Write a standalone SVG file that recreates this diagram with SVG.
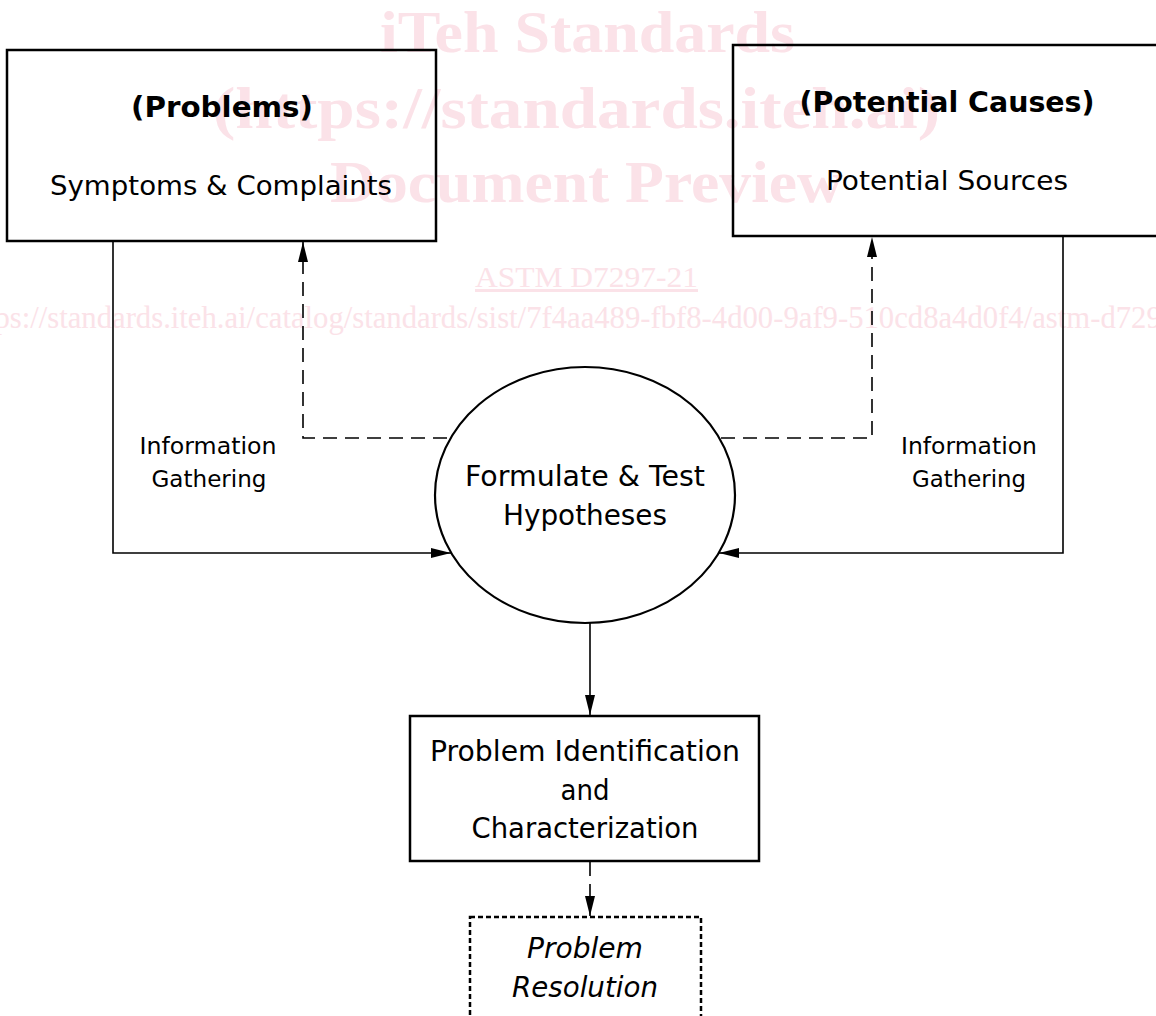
<svg xmlns="http://www.w3.org/2000/svg" width="1156" height="1016" viewBox="0 0 1156 1016">
<defs>
<marker id="ahl" viewBox="0 0 20 10" refX="20" refY="5" markerWidth="20" markerHeight="10" markerUnits="userSpaceOnUse" orient="auto">
<path d="M0,0 L20,5 L0,10 z" fill="#000"/>
</marker>
</defs>
<style>
.wm{font-family:"Liberation Serif",serif;fill:#fbe2e8}
.wmb{font-weight:bold;font-size:60px}
.t{font-family:"DejaVu Sans",Verdana,sans-serif;fill:#000;text-anchor:middle}
.box{fill:none;stroke:#000;stroke-width:2.5}
.ln{fill:none;stroke:#000;stroke-width:1.6}
.dash{stroke-dasharray:14 8}
</style>
<rect width="1156" height="1016" fill="#fff"/>
<g id="watermark">
<text class="wm wmb" x="380" y="52" textLength="415" lengthAdjust="spacingAndGlyphs">iTeh Standards</text>
<text class="wm wmb" x="213" y="128" textLength="727" lengthAdjust="spacingAndGlyphs">(https://standards.iteh.ai)</text>
<text class="wm wmb" x="330" y="202" textLength="513" lengthAdjust="spacingAndGlyphs">Document Preview</text>
<text class="wm" x="475" y="287" font-size="30" textLength="223" lengthAdjust="spacingAndGlyphs" text-decoration="underline">ASTM D7297-21</text>
<text class="wm" x="-38" y="328" font-size="31" textLength="1256" lengthAdjust="spacingAndGlyphs">https://standards.iteh.ai/catalog/standards/sist/7f4aa489-fbf8-4d00-9af9-510cd8a4d0f4/astm-d7297-21</text>
</g>
<g id="connectors">
<polyline class="ln" points="113,241 113,553 451,553" marker-end="url(#ahl)"/>
<polyline class="ln" points="1063,236 1063,553 719,553" marker-end="url(#ahl)"/>
<polyline class="ln dash" points="447,438 303,438 303,242" marker-end="url(#ahl)"/>
<polyline class="ln dash" points="721,438 872,438 872,237" marker-end="url(#ahl)"/>
<line class="ln" x1="590" y1="622" x2="590" y2="715" marker-end="url(#ahl)"/>
<line class="ln dash" x1="590" y1="862" x2="590" y2="916" marker-end="url(#ahl)"/>
<text class="t" x="208" y="454" font-size="23" textLength="137" lengthAdjust="spacingAndGlyphs">Information</text>
<text class="t" x="209" y="487" font-size="23" textLength="115" lengthAdjust="spacingAndGlyphs">Gathering</text>
<text class="t" x="969" y="454" font-size="23" textLength="136" lengthAdjust="spacingAndGlyphs">Information</text>
<text class="t" x="969" y="487" font-size="23" textLength="114" lengthAdjust="spacingAndGlyphs">Gathering</text>
</g>
<g id="node-problems">
<rect class="box" x="7" y="50" width="429" height="191"/>
<text class="t" x="222" y="117" font-size="28" font-weight="bold" textLength="182" lengthAdjust="spacingAndGlyphs">(Problems)</text>
<text class="t" x="221" y="195" font-size="27" textLength="342" lengthAdjust="spacingAndGlyphs">Symptoms &amp; Complaints</text>
</g>
<g id="node-causes">
<rect class="box" x="733" y="45" width="440" height="191"/>
<text class="t" x="947" y="112" font-size="28" font-weight="bold" textLength="295" lengthAdjust="spacingAndGlyphs">(Potential Causes)</text>
<text class="t" x="947" y="190" font-size="27" textLength="242" lengthAdjust="spacingAndGlyphs">Potential Sources</text>
</g>
<g id="node-hypotheses">
<ellipse class="box" cx="585" cy="495" rx="150" ry="128" style="stroke-width:2.2"/>
<text class="t" x="585" y="486" font-size="28" textLength="240" lengthAdjust="spacingAndGlyphs">Formulate &amp; Test</text>
<text class="t" x="585" y="525" font-size="28" textLength="164" lengthAdjust="spacingAndGlyphs">Hypotheses</text>
</g>
<g id="node-identification">
<rect class="box" x="410" y="716" width="349" height="145"/>
<text class="t" x="585" y="761" font-size="28" textLength="310" lengthAdjust="spacingAndGlyphs">Problem Identification</text>
<text class="t" x="585" y="800" font-size="28" textLength="49" lengthAdjust="spacingAndGlyphs">and</text>
<text class="t" x="585" y="838" font-size="28" textLength="227" lengthAdjust="spacingAndGlyphs">Characterization</text>
</g>
<g id="node-resolution">
<rect class="box" x="470" y="917" width="231" height="110" stroke-dasharray="5 3"/>
<text class="t" x="585" y="958" font-size="28" font-style="italic" textLength="116" lengthAdjust="spacingAndGlyphs">Problem</text>
<text class="t" x="585" y="997" font-size="28" font-style="italic" textLength="146" lengthAdjust="spacingAndGlyphs">Resolution</text>
</g>
</svg>
